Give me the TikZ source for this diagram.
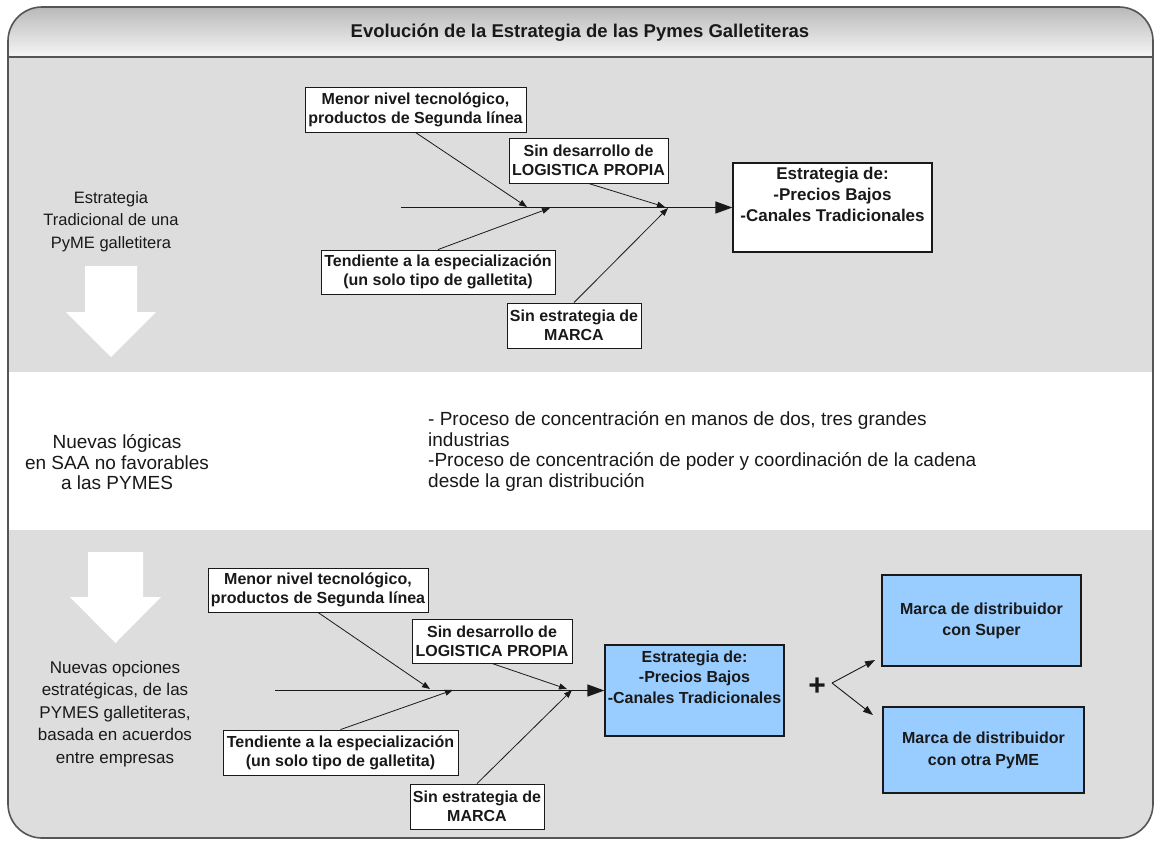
\documentclass[tikz,border=0pt]{standalone}
\usepackage{fontspec}
\setmainfont{Liberation Sans}
\usetikzlibrary{arrows.meta}
\definecolor{secgrey}{RGB}{221,221,221}
\definecolor{boxblue}{RGB}{153,204,255}
\definecolor{framegrey}{RGB}{85,85,85}
\definecolor{inkc}{RGB}{25,25,25}
\begin{document}
\begin{tikzpicture}[x=1pt,y=-1pt,
  cause/.style={draw=inkc, fill=white, line width=0.9pt, text=inkc,
    font=\bfseries\fontsize{16}{19}\selectfont, align=center, inner sep=0pt},
  result/.style={draw=inkc, line width=1.3pt, text=inkc, align=center, inner sep=0pt},
  plain/.style={text=inkc, align=center, inner sep=0pt},
  branch/.style={draw=inkc, line width=0.8pt, -{Triangle[length=8pt,width=6pt]}},
  spine/.style={draw=inkc, line width=1.4pt, -{Triangle[length=17pt,width=12pt]}},
  fork/.style={draw=inkc, line width=0.9pt, -{Triangle[length=10pt,width=7pt]}}]
\useasboundingbox (0,0) rectangle (1158,841);
\fill[white] (0,0) rectangle (1158,841);
% background bands
\begin{scope}
  \clip[rounded corners=34pt] (8,7) rectangle (1153,838);
  \shade[top color={rgb,255:red,185;green,185;blue,185}, bottom color={rgb,255:red,246;green,246;blue,246}] (8,7) rectangle (1153,57);
  \fill[secgrey] (8,57) rectangle (1153,372);
  \fill[white] (8,372) rectangle (1153,530);
  \fill[secgrey] (8,530) rectangle (1153,838);
\end{scope}
\draw[framegrey, line width=1.6pt] (8,57) -- (1153,57);
\draw[framegrey, line width=1.6pt, rounded corners=34pt] (8,7) rectangle (1153,838);

\node[plain, font=\bfseries\fontsize{18.5}{22}\selectfont] (title) at (580,33) {Evolución de la Estrategia de las Pymes Galletiteras};

% big white arrows
\fill[white] (85,266) -- (137,266) -- (137,312) -- (156,312) -- (111,357) -- (66,312) -- (85,312) -- cycle;
\fill[white] (88,552) -- (143,552) -- (143,597) -- (161,597) -- (115.5,643) -- (70,597) -- (88,597) -- cycle;

% left texts
\node[plain, font=\fontsize{16.5}{22.5}\selectfont] (lt1) at (111,221.5) {Estrategia\\Tradicional de una\\PyME galletitera};
\node[plain, font=\fontsize{19}{20.5}\selectfont] (lt2) at (117,462.5) {Nuevas lógicas\\en SAA no favorables\\a las PYMES};
\node[plain, font=\fontsize{17}{22.5}\selectfont] (lt3) at (115,714) {Nuevas opciones\\estratégicas, de las\\PYMES galletiteras,\\basada en acuerdos\\entre empresas};
\node[plain, align=left, anchor=west, font=\fontsize{19}{20.5}\selectfont] (mt) at (428,451.5) {- Proceso de concentración en manos de dos, tres grandes\\industrias\\-Proceso de concentración de poder y coordinación de la cadena\\desde la gran distribución};

% ---------- top fishbone ----------
\node[cause, minimum width=221pt, minimum height=45pt] (m1) at (415.5,109.5) {Menor nivel tecnológico,\\productos de Segunda línea};
\node[cause, minimum width=159pt, minimum height=45pt] (d1) at (588.5,160.5) {Sin desarrollo de\\LOGISTICA PROPIA};
\node[cause, minimum width=234pt, minimum height=44pt] (t1) at (438,272) {Tendiente a la especialización\\(un solo tipo de galletita)};
\node[cause, minimum width=134pt, minimum height=45pt] (s1) at (574,325.5) {Sin estrategia de\\MARCA};
\node[result, fill=white, minimum width=199pt, minimum height=89pt, font=\bfseries\fontsize{17}{21}\selectfont] (r1) at (832.5,207.5) {Estrategia de:\\-Precios Bajos\\-Canales Tradicionales\\\strut};
\coordinate (sp1) at (401,207.5);
\coordinate (e1m) at (527,207);
\coordinate (e1t) at (550,208);
\coordinate (e1d) at (665,207);
\coordinate (e1s) at (668,208);
\draw[spine] (sp1) -- (r1.west);
\draw[branch] (m1.south) -- (e1m);
\draw[branch] (t1.north) -- (e1t);
\draw[branch] (d1.south) -- (e1d);
\draw[branch] (s1.north) -- (e1s);

% ---------- bottom fishbone ----------
\node[cause, minimum width=220pt, minimum height=44pt] (m2) at (318,590) {Menor nivel tecnológico,\\productos de Segunda línea};
\node[cause, minimum width=160pt, minimum height=44pt] (d2) at (492,641) {Sin desarrollo de\\LOGISTICA PROPIA};
\node[cause, minimum width=235pt, minimum height=45pt] (t2) at (340.5,752.5) {Tendiente a la especialización\\(un solo tipo de galletita)};
\node[cause, minimum width=134pt, minimum height=45pt] (s2) at (477,806.5) {Sin estrategia de\\MARCA};
\node[result, fill=boxblue, minimum width=179pt, minimum height=91pt, font=\bfseries\fontsize{16}{20.5}\selectfont] (r2) at (694.5,690.5) {Estrategia de:\\-Precios Bajos\\-Canales Tradicionales\\\strut};
\coordinate (sp2) at (275,690.5);
\coordinate (e2m) at (430,689);
\coordinate (e2t) at (453,690);
\coordinate (e2d) at (567,689);
\coordinate (e2s) at (572,690);
\draw[spine] (sp2) -- (r2.west);
\draw[branch] (m2.south) -- (e2m);
\draw[branch] (t2.north) -- (e2t);
\draw[branch] (d2.south) -- (e2d);
\draw[branch] (s2.north) -- (e2s);

\node[plain, font=\bfseries\fontsize{30}{30}\selectfont] (plus) at (817,687) {+};
\node[result, fill=boxblue, minimum width=199pt, minimum height=91pt, font=\bfseries\fontsize{16}{21}\selectfont] (b1) at (981.5,620.5) {Marca de distribuidor\\con Super};
\node[result, fill=boxblue, minimum width=201pt, minimum height=86pt, font=\bfseries\fontsize{16}{22}\selectfont] (b2) at (983.5,750) {Marca de distribuidor\\con otra PyME};
\coordinate (fk) at (832,683);
\coordinate (fa) at (875,660);
\coordinate (fb) at (873,715);
\draw[fork] (fk) -- (fa);
\draw[fork] (fk) -- (fb);
\end{tikzpicture}
\end{document}
